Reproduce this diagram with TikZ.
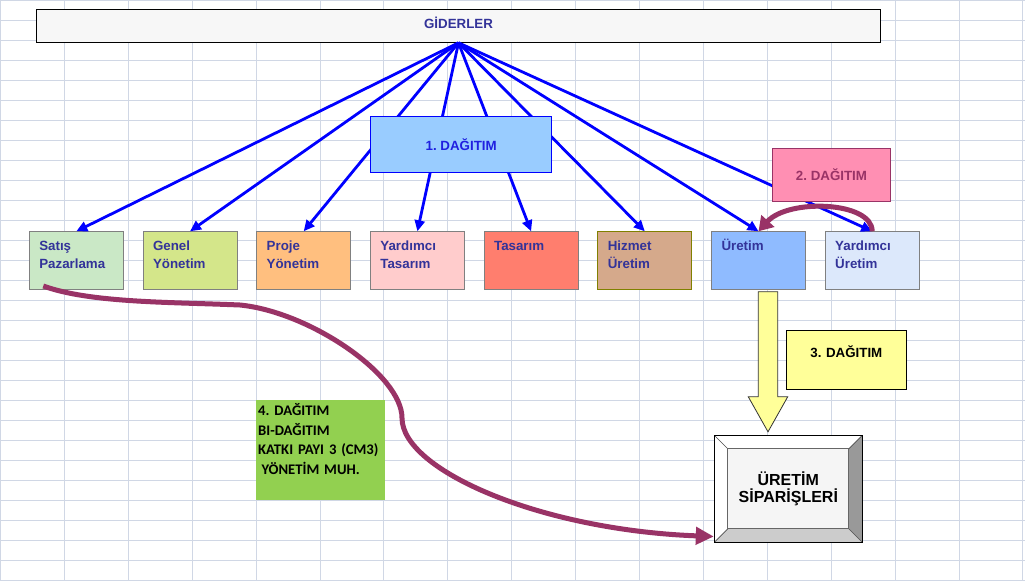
\documentclass[tikz,border=0pt]{standalone}
\usepackage{fontspec}
\setmainfont{Liberation Sans}
\newfontfamily\calibrifont{Carlito}
\usepackage{xcolor}
\usepackage{tikz}
\usetikzlibrary{arrows.meta, positioning, calc}
\frenchspacing

\definecolor{gridline}{HTML}{D0D7E5}
\definecolor{headfill}{HTML}{F7F7F7}
\definecolor{boxtext}{HTML}{333399}
\definecolor{boxedge}{HTML}{808080}
\definecolor{plum}{HTML}{993366}
\definecolor{satisfill}{HTML}{CAE8C6}
\definecolor{genelfill}{HTML}{D4E68A}
\definecolor{projefill}{HTML}{FFBF7F}
\definecolor{ytasfill}{HTML}{FFCCCC}
\definecolor{tasfill}{HTML}{FF7E6E}
\definecolor{hizfill}{HTML}{D5A98B}
\definecolor{hizedge}{HTML}{808000}
\definecolor{uretfill}{HTML}{8FBBFF}
\definecolor{yuretfill}{HTML}{DCE8FB}
\definecolor{dagbir}{HTML}{99CCFF}
\definecolor{dagiki}{HTML}{FF8FB3}
\definecolor{dagtext}{HTML}{2020E0}
\definecolor{paleyellow}{HTML}{FFFF99}
\definecolor{katkigreen}{HTML}{92D050}
\definecolor{innerface}{HTML}{F5F5F5}
\definecolor{bevelright}{HTML}{999999}
\definecolor{bevelbottom}{HTML}{CCCCCC}

% kabartmali kutunun yuzleri
\newcommand\bevelfaces{%
  \path (path picture bounding box.north west) coordinate (bvA)
        (path picture bounding box.north east) coordinate (bvB)
        (path picture bounding box.south east) coordinate (bvC)
        (path picture bounding box.south west) coordinate (bvD);
  \path ($(bvA)+(13.5,13.5)$) coordinate (bva) ($(bvB)+(-13.5,13.5)$) coordinate (bvb)
        ($(bvC)+(-13.5,-13.5)$) coordinate (bvc) ($(bvD)+(13.5,-13.5)$) coordinate (bvd);
  \fill[white] (bvA) -- (bvB) -- (bvb) -- (bva) -- cycle;
  \fill[white] (bvA) -- (bva) -- (bvd) -- (bvD) -- cycle;
  \fill[bevelright] (bvB) -- (bvC) -- (bvc) -- (bvb) -- cycle;
  \fill[bevelbottom] (bvD) -- (bvd) -- (bvc) -- (bvC) -- cycle;
  \draw[black!70, line width=0.6pt] (bvA) -- (bva) (bvB) -- (bvb) (bvC) -- (bvc) (bvD) -- (bvd);
  \draw[black!60, line width=1.2pt] (bva) rectangle (bvc);
}

\begin{document}
\begin{tikzpicture}[x=1pt, y=-1pt,
    birim/.style={draw=boxedge, line width=0.8pt, anchor=north west, outer sep=0pt,
        inner xsep=10pt, inner ysep=0pt, text width=74pt, align=left,
        text height=18.7pt, text depth=39.3pt, text=boxtext,
        font=\bfseries\fontsize{13.33}{18.3}\selectfont},
    yazi/.style={font=\bfseries\fontsize{13.33}{16}\selectfont},
    mavi/.style={draw=blue, line width=2.8pt, -{Triangle[length=11pt, width=10pt]}},
    mor/.style={draw=plum, line width=5pt, -{Triangle[length=18pt, width=17pt]}},
    bevel/.style={draw=black, line width=1pt, fill=innerface, minimum width=148pt,
        minimum height=107pt, path picture={\bevelfaces}}
]
    % arka plan ve hucre cizgileri
    \fill[white] (0,0) rectangle (1025,581);
    \useasboundingbox (0,0) rectangle (1025,581);
    \foreach \i in {0,...,16}
        \draw[gridline, line width=0.9pt] (0.5+63.9*\i,0) -- (0.5+63.9*\i,581);
    \foreach \j in {0,...,29}
        \draw[gridline, line width=0.9pt] (0,0.7+20*\j) -- (1025,0.7+20*\j);

    % giderler
    \node[yazi, draw, line width=1pt, fill=headfill, minimum width=844.4pt, inner ysep=0pt,
        text height=19pt, text depth=14pt, text=boxtext] (gider) at (458.5,25.8) {GİDERLER};

    % birimler
    \node[birim, fill=satisfill] (satis) at (29.3,231.3) {Satış\\Pazarlama};
    \node[birim, fill=genelfill, right=19.7pt of satis] (genel) {Genel\\Yönetim};
    \node[birim, fill=projefill, right=19.7pt of genel] (proje) {Proje\\Yönetim};
    \node[birim, fill=ytasfill, right=19.7pt of proje] (ytasarim) {Yardımcı\\Tasarım};
    \node[birim, fill=tasfill, right=19.7pt of ytasarim] (tasarim) {Tasarım};
    \node[birim, fill=hizfill, draw=hizedge, right=19.7pt of tasarim] (hizmet) {Hizmet\\Üretim};
    \node[birim, fill=uretfill, right=19.7pt of hizmet] (uretim) {Üretim};
    \node[birim, fill=yuretfill, right=19.7pt of uretim] (yuretim) {Yardımcı\\Üretim};

    % 1. dagitim oklari
    \foreach \b in {satis,genel,proje,ytasarim,tasarim,hizmet,uretim,yuretim}
        \draw[mavi] (gider.south) -- (\b.north);

    \node[yazi, draw=blue, line width=0.8pt, fill=dagbir, text=dagtext, minimum width=181pt,
        inner ysep=0pt, text height=34pt, text depth=22pt] (dagbir) at (461.2,144.7) {1. DAĞITIM};

    % 2. dagitim
    \node[yazi, draw=plum, line width=0.8pt, fill=dagiki, text=plum, minimum width=118.4pt,
        inner ysep=0pt, text height=31.7pt, text depth=21.3pt] (dagiki) at (831.5,174.8) {2. DAĞITIM};
    \draw[draw=plum, line width=5pt, -{Triangle[length=14pt, width=17pt]}]
        (yuretim.north) .. controls +(0,-30) and +(30,-33) .. (uretim.north);

    % 3. dagitim
    \node[yazi, draw, line width=0.8pt, fill=paleyellow, anchor=north west, inner sep=0pt,
        text width=119.4pt, align=center, text height=26.4pt, text depth=32.6pt] (daguc) at (786.3,330.3) {3. DAĞITIM};

    \node[bevel, align=center, font=\bfseries\fontsize{16}{17.7}\selectfont] (siparis) at (788.3,488.8) {ÜRETİM\\SİPARİŞLERİ};

    \coordinate (okuc) at ($(siparis.north)+(-20.3,-3)$);
    \coordinate (okbas) at ($(okuc |- uretim.south)+(0,2.4)$);
    \draw[black!80, line width=0.8pt, fill=paleyellow] ($(okbas)+(-9.7,0)$) -- ($(okbas)+(9.7,0)$)
        -- ($(okuc)+(9.7,-35)$) -- ($(okuc)+(19.7,-35)$) -- (okuc)
        -- ($(okuc)+(-19.7,-35)$) -- ($(okuc)+(-9.7,-35)$) -- cycle;

    % 4. dagitim
    \node[fill=katkigreen, anchor=north west, inner xsep=2pt, inner ysep=0pt, text width=125pt,
        align=left, text height=15.7pt, text depth=84.3pt,
        font=\calibrifont\bfseries\fontsize{14.67}{19.4}\selectfont] (katki) at (256,400)
        {4. DAĞITIM\\BI-DAĞITIM\\KATKI PAYI 3 (CM3)\\\hspace*{3.3pt}YÖNETİM MUH.};

    \draw[mor] ($(satis.south west)+(14,-3.3)$) .. controls (90,303) and (170,302) .. (240,305)
        .. controls (310,312) and (402,375) .. (402,418)
        .. controls (402,470) and (540,530) .. ($(siparis.south west)+(0,-6.3)$);
\end{tikzpicture}
\end{document}
